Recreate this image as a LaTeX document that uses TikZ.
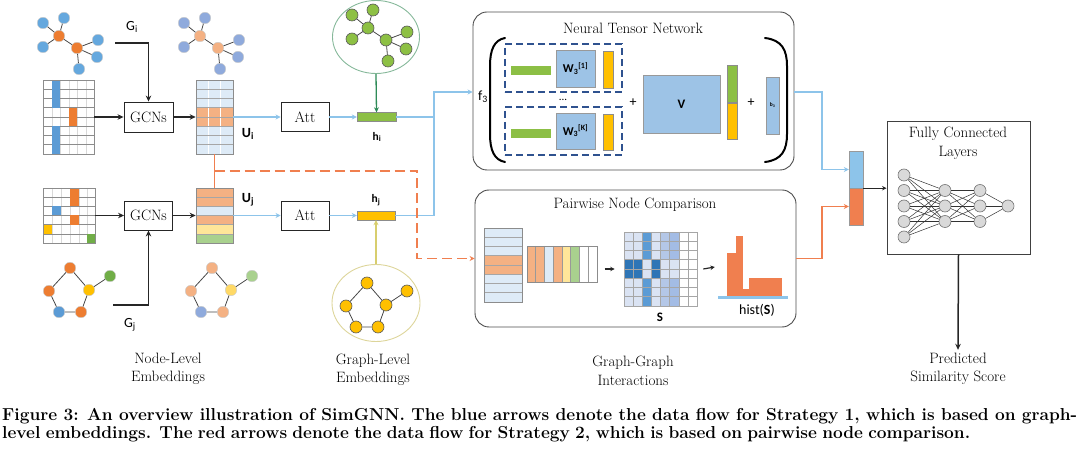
\documentclass[tikz,border=0pt]{standalone}
\usepackage{fontspec}
\newfontfamily\carl{Carlito}
\usetikzlibrary{arrows.meta,shapes.geometric}
\definecolor{gblue}{HTML}{65A8DE}
\definecolor{corange}{HTML}{ED7D31}
\definecolor{cblue}{HTML}{5B9BD5}
\definecolor{cyellow}{HTML}{FFC000}
\definecolor{cgreen}{HTML}{70AD47}
\definecolor{lblue}{HTML}{8FAADC}
\definecolor{lorange}{HTML}{F4B183}
\definecolor{lyellow}{HTML}{FFD966}
\definecolor{lgreen}{HTML}{A9D18E}
\definecolor{paleblue}{HTML}{DEEBF7}
\definecolor{paleyellow}{HTML}{FFE699}
\definecolor{hgreen}{HTML}{8CBF45}
\definecolor{tgreen}{HTML}{8DC044}
\definecolor{arrowblue}{HTML}{8DC4EA}
\definecolor{redline}{HTML}{F07F4F}
\definecolor{wblue}{HTML}{9DC3E6}
\definecolor{dashblue}{HTML}{2F528F}
\definecolor{nngray}{HTML}{D9D9D9}
\definecolor{darkgreen}{HTML}{2E8B57}
\definecolor{olive}{HTML}{D8CE6E}
\definecolor{circg}{HTML}{86B89A}
\definecolor{circy}{HTML}{DDD59A}
\definecolor{spale}{HTML}{DAE3F3}
\definecolor{smid}{HTML}{5B9BD5}
\definecolor{sdark}{HTML}{2E75B6}
\definecolor{sfour}{HTML}{B4C7E7}
\definecolor{sfive}{HTML}{A3BCE5}
\definecolor{gridgray}{HTML}{A6A6A6}

\tikzset{
 serif/.style={font=\fontsize{15}{18.5}\selectfont, align=center, inner sep=0pt},
 opbox/.style={draw=black!85, line width=0.9pt, inner sep=0pt, font=\fontsize{15}{18}\selectfont},
 gnode/.style={circle, inner sep=0pt, minimum size=11.5pt, draw=white!80!black, line width=0.4pt},
 dnode/.style={circle, inner sep=0pt, minimum size=12pt, draw=black!65, line width=0.6pt},
 pnode/.style={gnode},
 gedge/.style={draw=black!72, line width=0.8pt},
 blkarrow/.style={draw=black!85, line width=1.5pt, -{Stealth[length=6pt,width=5.5pt]}},
 smallarrow/.style={draw=black!85, line width=1.2pt, -{Stealth[length=4.5pt,width=4.5pt]}},
 bline/.style={draw=arrowblue, line width=1.7pt},
 barrow/.style={bline, -{Stealth[length=5pt,width=5pt]}},
 rsolid/.style={draw=redline, line width=1.8pt},
 rdash/.style={rsolid, dash pattern=on 10pt off 5pt, -{Stealth[length=5pt,width=5pt]}},
 rarrow/.style={rsolid, -{Stealth[length=5pt,width=5pt]}},
 sl/.style={font=\carl\fontsize{14}{16}\selectfont, inner sep=0pt},
 bar/.style={draw=black!45, line width=0.4pt, inner sep=0pt},
 wbox/.style={fill=wblue, draw=black!40, line width=0.5pt, inner sep=0pt, font=\carl\bfseries\fontsize{12}{14}\selectfont},
 dbox/.style={draw=dashblue, line width=2pt, dash pattern=on 7pt off 4pt, inner sep=0pt},
 nn/.style={circle, fill=nngray, draw=black!55, line width=0.6pt, minimum size=12pt, inner sep=0pt},
 nnedge/.style={draw=black!80, line width=0.5pt},
 rbox/.style={draw=black!70, line width=0.9pt, rounded corners=14pt, inner sep=0pt},
 mat/.style={draw=black!45, line width=0.6pt, inner sep=0pt},
 paren/.style={draw=black, line width=2pt, line cap=round},
 captext/.style={anchor=base west, inner sep=0pt, font=\fontsize{17.3}{17.5}\selectfont\bfseries},
}

% tree graph: prefix, dx, dy, hub fill, leaf fill, node style
\newcommand\treeg[6]{%
  \begin{scope}[shift={(#2,#3)}]
    \node[#6,fill=#4] (#1h) at (59,36) {};
    \node[#6,fill=#4] (#1k) at (77,48) {};
    \node[#6,fill=#5] (#1a) at (43,23) {};
    \node[#6,fill=#5] (#1b) at (64,18) {};
    \node[#6,fill=#5] (#1c) at (43,47) {};
    \node[#6,fill=#5] (#1d) at (98,40) {};
    \node[#6,fill=#5] (#1e) at (97,57) {};
    \node[#6,fill=#5] (#1f) at (79,69) {};
  \end{scope}
  \draw[gedge] (#1h) -- (#1a) (#1h) -- (#1b) (#1h) -- (#1c) (#1h) -- (#1k)
               (#1k) -- (#1d) (#1k) -- (#1e) (#1k) -- (#1f);
}
% pentagon graph: prefix, dx, dy, top, left, right, bottom-left, bottom-right, extra
\newcommand\pentg[9]{%
  \begin{scope}[shift={(#2,#3)}]
    \node[pnode,fill=#4] (#1t) at (70,268) {};
    \node[pnode,fill=#5] (#1l) at (49,291) {};
    \node[pnode,fill=#6] (#1r) at (89,290) {};
    \node[pnode,fill=#7] (#1p) at (59,312) {};
    \node[pnode,fill=#8] (#1q) at (81,312) {};
    \node[pnode,fill=#9] (#1x) at (110,276) {};
  \end{scope}
  \draw[gedge] (#1t) -- (#1l) (#1t) -- (#1r) (#1l) -- (#1p) (#1p) -- (#1q)
               (#1q) -- (#1r) (#1r) -- (#1x);
}

\begin{document}
\begin{tikzpicture}[x=1pt,y=-1pt]
\useasboundingbox (0,0) rectangle (1080,462);

% ---------------- graphs ----------------
\treeg{gi}{0}{0}{corange}{gblue}{gnode}
\treeg{ui}{141}{0}{lorange}{lblue}{gnode}
\pentg{gj}{0}{0}{corange}{corange}{cyellow}{cblue}{corange}{cgreen}
\pentg{uj}{142}{0}{lorange}{lorange}{lyellow}{lblue}{lorange}{lgreen}

% ---------------- Xi matrix ----------------
\foreach \x in {52,60,69,77,86} \draw[black!15, line width=0.4pt] (\x,80) -- (\x,154);
\foreach \i in {1,...,7} \draw[black!45, line width=0.6pt] (43,{80+9.25*\i}) -- (94,{80+9.25*\i});
\fill[cblue] (52,80) rectangle (60,107.75);
\fill[corange] (69,107.75) rectangle (77,126.25);
\fill[cblue] (52,126.25) rectangle (60,154);
\node[mat, minimum width=51pt, minimum height=74pt] (Xi) at (68.5,117) {};

% ---------------- Ui matrix ----------------
\fill[paleblue] (196,80) rectangle (233,154);
\fill[lorange] (196,107.75) rectangle (233,126.25);
\foreach \x in {208.3,220.7} \draw[white, line width=0.6pt] (\x,80) -- (\x,154);
\foreach \i in {1,...,7} \draw[black!35, line width=0.6pt] (196,{80+9.25*\i}) -- (233,{80+9.25*\i});
\node[mat, minimum width=37pt, minimum height=74pt] (Ui) at (214.5,117) {};

% ---------------- Xj matrix ----------------
\foreach \x in {52,61,70,79,87} \draw[black!15, line width=0.4pt] (\x,188) -- (\x,243);
\foreach \i in {1,...,5} \draw[black!45, line width=0.6pt] (43,{188+9.1667*\i}) -- (95,{188+9.1667*\i});
\fill[corange] (70,188) rectangle (79,206.33);
\fill[cblue] (52,206.33) rectangle (61,215.5);
\fill[corange] (70,215.5) rectangle (79,224.67);
\fill[cyellow] (43,224.67) rectangle (52,233.83);
\fill[cgreen] (87,233.83) rectangle (95,243);
\node[mat, minimum width=52pt, minimum height=55pt] (Xj) at (69,215.5) {};

% ---------------- Uj matrix ----------------
\fill[lorange] (196,188) rectangle (233,206.33);
\fill[paleblue] (196,206.33) rectangle (233,215.5);
\fill[lorange] (196,215.5) rectangle (233,224.67);
\fill[paleyellow] (196,224.67) rectangle (233,233.83);
\fill[lgreen] (196,233.83) rectangle (233,243);
\foreach \i in {1,...,5} \draw[black!35, line width=0.6pt] (196,{188+9.1667*\i}) -- (233,{188+9.1667*\i});
\node[mat, minimum width=37pt, minimum height=55pt] (Uj) at (214.5,215.5) {};

% ---------------- GCN / Att boxes ----------------
\node[opbox, minimum width=49pt, minimum height=30pt] (gcn1) at (148.5,117) {GCNs};
\node[opbox, minimum width=48pt, minimum height=29pt] (gcn2) at (148.5,215.5) {GCNs};
\node[opbox, minimum width=48pt, minimum height=29pt] (att1) at (305,117) {Att};
\node[opbox, minimum width=48pt, minimum height=29pt] (att2) at (305,215.5) {Att};

% ---------------- h vectors ----------------
\node[bar, fill=hgreen, minimum width=39pt, minimum height=9pt] (hi) at (376.5,117) {};
\node[bar, fill=cyellow, minimum width=38pt, minimum height=9pt] (hj) at (376,215.5) {};

% ---------------- circled graphs ----------------
\node[ellipse, draw=circg, line width=0.9pt, minimum width=87pt, minimum height=73pt, inner sep=0pt] (circ1) at (376,37) {};
\node[ellipse, draw=circy, line width=0.9pt, minimum width=88pt, minimum height=77pt, inner sep=0pt] (circ2) at (376,303) {};
\treeg{gg}{309}{-8}{tgreen}{tgreen}{dnode}
\tikzset{pnode/.style={dnode}}
\pentg{yy}{297}{15}{cyellow}{cyellow}{cyellow}{cyellow}{cyellow}{cyellow}

% ---------------- labels ----------------
\node[sl] (lGi) at (132,27) {G\textsubscript{i}};
\node[sl] (lGj) at (130,325) {G\textsubscript{j}};
\node[sl, font=\carl\bfseries\fontsize{14}{16}\selectfont] (lUi) at (248,134) {U\textsubscript{i}};
\node[sl, font=\carl\bfseries\fontsize{14}{16}\selectfont] (lUj) at (248,200) {U\textsubscript{j}};
\node[sl, font=\carl\bfseries\fontsize{11.5}{13}\selectfont] (lhi) at (377,137) {h\textsubscript{i}};
\node[sl, font=\carl\bfseries\fontsize{11.5}{13}\selectfont] (lhj) at (376,200) {h\textsubscript{j}};
\node[serif] (tNode) at (168,369) {Node-Level\\Embeddings};
\node[serif] (tGraph) at (373,370) {Graph-Level\\Embeddings};
\node[serif] (tInter) at (633,371) {Graph-Graph\\Interactions};

% ---------------- left arrows ----------------
\coordinate (giS) at (115,43);
\coordinate (gjS) at (113,305);
\draw[blkarrow] (giS) -| (gcn1.north);
\draw[blkarrow] (gjS) -| (gcn2.south);
\draw[blkarrow] (Xi.east) -- (gcn1.west);
\draw[blkarrow] (gcn1.east) -- (Ui.west);
\draw[blkarrow] (Xj.east) -- (gcn2.west);
\draw[blkarrow] (gcn2.east) -- (Uj.west);
\draw[barrow] (Ui.east) -- (att1.west);
\draw[barrow] (att1.east) -- (hi.west);
\draw[barrow] (Uj.east) -- (att2.west);
\draw[barrow] (att2.east) -- (hj.west);
\draw[draw=darkgreen, line width=1.3pt, -{Stealth[length=5pt,width=5pt]}] (circ1.south) -- (hi.north);
\draw[draw=olive, line width=1.3pt, -{Stealth[length=5pt,width=5pt]}] (circ2.north) -- (hj.south);

% ---------------- NTN box ----------------
\node[rbox, minimum width=321pt, minimum height=158pt] (ntn) at (633.5,91) {};
\node[serif] (tNTN) at (633,28) {Neural Tensor Network};
\node[sl] (lf3) at (483,97) {f\textsubscript{3}};
\draw[paren] (505,38) .. controls (494,40) and (490,50) .. (490,66) -- (490,134) .. controls (490,150) and (494,160) .. (505,162);
\draw[paren] (765,38) .. controls (782,40) and (787,50) .. (787,66) -- (787,134) .. controls (787,150) and (782,160) .. (765,162);
\node[dbox, minimum width=117pt, minimum height=48pt] (d1) at (563.5,68) {};
\node[dbox, minimum width=117pt, minimum height=48pt] (d2) at (563.5,131) {};
\node[bar, fill=hgreen, draw=none, minimum width=40pt, minimum height=9pt] (g1) at (531,70.5) {};
\node[bar, fill=hgreen, draw=none, minimum width=40pt, minimum height=9pt] (g2) at (531,134) {};
\node[wbox, minimum width=39pt, minimum height=37pt] (w1) at (575.5,68.5) {W\textsubscript{3}\textsuperscript{[1]}};
\node[wbox, minimum width=39pt, minimum height=36pt] (w2) at (575.5,131) {W\textsubscript{3}\textsuperscript{[K]}};
\node[bar, fill=cyellow, minimum width=10pt, minimum height=37pt] (y1) at (608,69.5) {};
\node[bar, fill=cyellow, minimum width=10pt, minimum height=36pt] (y2) at (608,132) {};
\node[sl, font=\carl\fontsize{11}{12}\selectfont] (dots) at (563,100) {...};
\node[sl] (plus1) at (633,103) {+};
\node[wbox, font=\carl\bfseries\fontsize{13}{15}\selectfont, minimum width=77pt, minimum height=58pt] (V) at (681.5,104) {V};
\node[bar, fill=hgreen, minimum width=10pt, minimum height=37pt] (sg) at (732,83.5) {};
\node[bar, fill=cyellow, minimum width=10pt, minimum height=36pt] (sy) at (732,121) {};
\node[sl] (plus2) at (751,103) {+};
\node[wbox, font=\carl\bfseries\fontsize{5.5}{6}\selectfont, minimum width=13pt, minimum height=57pt] (bvec) at (772.5,105.5) {b\textsubscript{3}};

% ---------------- Pairwise box ----------------
\node[rbox, minimum width=321pt, minimum height=137pt] (pnc) at (635.5,258.5) {};
\node[serif] (tPNC) at (635,205) {Pairwise Node Comparison};
% left matrix
\fill[paleblue] (484,228) rectangle (522,302);
\fill[lorange] (484,255.75) rectangle (522,274.25);
\foreach \i in {1,...,7} \draw[black!35, line width=0.6pt] (484,{228+9.25*\i}) -- (522,{228+9.25*\i});
\node[mat, minimum width=38pt, minimum height=74pt] (PL) at (503,265) {};
% transposed matrix
\fill[lorange] (527,246) rectangle (544.5,282);
\fill[paleblue] (544.5,246) rectangle (553.25,282);
\fill[lorange] (553.25,246) rectangle (562,282);
\fill[paleyellow] (562,246) rectangle (570.75,282);
\fill[lgreen] (570.75,246) rectangle (579.5,282);
\foreach \i in {1,...,7} \draw[black!40, line width=0.6pt] ({527+8.75*\i},246) -- ({527+8.75*\i},282);
\node[mat, minimum width=70pt, minimum height=36pt] (PT) at (562,264) {};
% S matrix
\fill[spale] (624,232) rectangle (651.375,306);
\fill[smid] (642.25,232) rectangle (651.375,306);
\fill[spale] (651.375,232) rectangle (660.5,306);
\fill[sfour] (660.5,232) rectangle (669.625,306);
\fill[sfive] (669.625,232) rectangle (678.75,306);
\fill[sdark] (624,259.75) rectangle (642.25,278.25);
\fill[spale] (642.25,259.75) rectangle (651.375,278.25);
\fill[sdark] (651.375,259.75) rectangle (660.5,278.25);
\fill[spale] (660.5,259.75) rectangle (678.75,278.25);
\foreach \i in {1,...,7} {
  \draw[gridgray, line width=0.5pt] ({624+9.125*\i},232) -- ({624+9.125*\i},306);
  \draw[gridgray, line width=0.5pt] (624,{232+9.25*\i}) -- (697,{232+9.25*\i});
}
\node[draw=gridgray, line width=0.6pt, inner sep=0pt, minimum width=73pt, minimum height=74pt] (Smat) at (660.5,269) {};
\node[sl, font=\carl\bfseries\fontsize{13}{15}\selectfont] (lS) at (660,317) {S};
% histogram
\fill[redline] (727,253) rectangle (736,296);
\fill[redline] (736,236) rectangle (743,296);
\fill[redline] (743,289) rectangle (749,296);
\fill[redline] (749,278) rectangle (782,296);
\draw[arrowblue, line width=2.5pt] (718,297.5) -- (788,297.5);
\node[inner sep=0pt, minimum width=70pt, minimum height=62pt] (hist) at (753,267) {};
\node[sl] (lhist) at (757,310) {hist(\textbf{S})};
\draw[smallarrow] ([xshift=-19pt]Smat.west) -- ([xshift=-9pt]Smat.west);
\draw[smallarrow] ([xshift=6pt]Smat.east) -- ([xshift=-3pt]hist.west);

% ---------------- flows to NTN / PNC ----------------
\coordinate (bend) at (434,92);
\draw[bline] (hi.east) -- (hi.east -| bend);
\draw[barrow] (hj.east) -| (bend) -- (ntn.west |- bend);
\coordinate (rm) at (214.5,171);
\coordinate (rc) at (417,171);
\draw[rsolid] (Ui.south) -- (Uj.north);
\draw[rdash] (rm) -- (rc) |- (pnc.west);

% ---------------- concat + FC ----------------
\node[bar, fill=arrowblue, draw=black!40, minimum width=14pt, minimum height=37pt] (cb) at (856,169.5) {};
\node[bar, fill=redline, draw=black!40, minimum width=14pt, minimum height=37pt] (co) at (856,206.5) {};
\coordinate (ob) at (822,92);
\coordinate (orb) at (822,258.5);
\draw[barrow] (ntn.east |- ob) -- (ob) |- (cb.west);
\draw[rarrow] (pnc.east) -- (orb) |- (co.west);
\node[draw=black!75, line width=0.9pt, inner sep=0pt, minimum width=143pt, minimum height=133pt] (fc) at (958.5,187.5) {};
\node[serif] (tFC) at (958,143.5) {Fully Connected\\Layers};
\draw[smallarrow] (cb.south east) -- (cb.south east -| fc.west);

% neural net
\foreach \n/\y in {1/175,2/190.5,3/206,4/221.5,5/237} \node[nn] (nA\n) at (904,\y) {};
\foreach \n/\y in {1/190.5,2/206,3/221.5} \node[nn] (nB\n) at (945,\y) {};
\foreach \n/\y in {1/190.5,2/206,3/221.5} \node[nn] (nC\n) at (980,\y) {};
\node[nn] (nD) at (1008,206) {};
\foreach \a in {1,...,5} \foreach \b in {1,2,3} \draw[nnedge] (nA\a) -- (nB\b);
\foreach \a in {1,2,3} \foreach \b in {1,2,3} \draw[nnedge] (nB\a) -- (nC\b);
\foreach \a in {1,2,3} \draw[nnedge] (nC\a) -- (nD);

\node[serif] (pred) at (958,369) {Predicted\\Similarity Score};
\draw[blkarrow] (fc.south) -- ([yshift=3pt]pred.north);

% ---------------- caption ----------------
\node[captext] (cap1) at (2,421)
  {\makebox[1075pt][s]{Figure 3: An overview illustration of SimGNN. The blue arrows denote the data flow for Strategy 1, which is based on graph-}};
\node[captext] (cap2) at (2,438.5)
  {\makebox[968pt][s]{level embeddings. The red arrows denote the data flow for Strategy 2, which is based on pairwise node comparison.}};
\end{tikzpicture}
\end{document}
